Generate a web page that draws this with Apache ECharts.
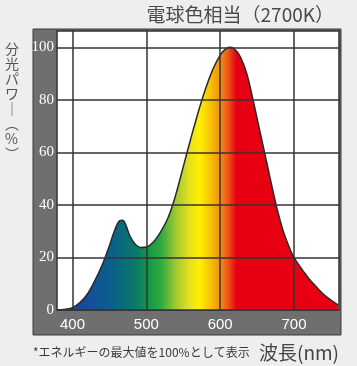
<!DOCTYPE html>
<html>
<head>
<meta charset="utf-8">
<script src="https://cdn.jsdelivr.net/npm/echarts@6/dist/echarts.min.js"></script>
<style>
html,body{margin:0;padding:0;background:#eeeeee;}
#c{width:357px;height:366px;}
</style>
</head>
<body>
<div id="c"></div>
<script>
// ---- data ----
const wavelengths = [380,390,400,410,420,430,440,450,458,464,468,472,478,485,492,500,510,520,530,540,550,560,570,580,590,600,608,614,620,628,636,643,650,657,664,671,678,685,692,698,705,712,720,730,740,750,760];
const power =       [0,0.3,0.9,2.8,6,11,17,24.5,31,34,34.2,32.5,28,25,23.8,24,26,30,35.5,44,54.5,65,75,84,91.5,97,99.5,100,99.2,96,90,82,73,64,55,46,37.5,30.5,25,21,17.8,15,12,8.9,6,3.8,1.9];
const xGridValues = [400,500,600,700];
const yGridValues = [0,20,40,60,80,100];
const xTickLabels = [400,500,600,700];
const titleText = '電球色相当（2700K）';
const yAxisTitle = '分\n光\nパ\nワ\n｜\n︵\n%\n︶';
const xAxisTitle = '波長(nm)';
const footnote = '*エネルギーの最大値を100%として表示';
// spectrum colours along the wavelength axis
const stopNm = [380,415,450,485,505,520,540,558,572,586,600,610,622,760];
const stopColors = ['#1a3f96','#1a4a9a','#0b5e8c','#0a7868','#159a45','#30aa40','#a0c830','#e6e020','#fff000','#f8c400','#f29010','#ee5a18','#e60012','#e60012'];

const xMin = 379, xMax = 761;
const span = wavelengths[wavelengths.length-1] - wavelengths[0];
const colorStops = stopNm.map((nm,i)=>({offset:(nm - wavelengths[0])/span, color:stopColors[i]}));

const chart = echarts.init(document.getElementById('c'), null, {renderer:'canvas'});
chart.setOption({
  backgroundColor:'#eeeeee',
  animation:false,
  title:{
    text:titleText,
    right:18, top:0,
    textStyle:{fontFamily:'Noto Sans CJK JP', fontSize:19, fontWeight:'normal', color:'#4a4a4a'}
  },
  graphic:[
    {type:'rect', z:-100, shape:{x:33, y:29, width:308, height:306}, style:{fill:'#6f6f6f', stroke:'#3a3a3a', lineWidth:1}},
    {type:'text', left:5, top:41, style:{text:yAxisTitle, fontFamily:'Noto Sans CJK JP', fontSize:14, lineHeight:15, fill:'#555555', align:'center'}},
    {type:'text', left:33, top:346, style:{text:footnote, fontFamily:'Noto Sans CJK JP', fontSize:12, fill:'#3c3c3c'}},
    {type:'text', right:18, top:343, style:{text:xAxisTitle, fontFamily:'Noto Sans CJK JP', fontSize:19, fill:'#444444'}}
  ],
  grid:{left:57, right:18, top:31, bottom:56, show:true, backgroundColor:'#ffffff', borderColor:'#333333', borderWidth:1.5},
  xAxis:{
    type:'value', min:xMin, max:xMax,
    axisLine:{show:false}, axisTick:{show:false}, splitLine:{show:false},
    axisLabel:{customValues:xTickLabels, color:'#ffffff', fontSize:15, fontFamily:'Liberation Sans', margin:7}
  },
  yAxis:{
    type:'value', min:0, max:106.2, interval:20,
    axisLine:{show:false}, axisTick:{show:false}, splitLine:{show:false},
    axisLabel:{color:'#ffffff', fontSize:15, fontFamily:'Liberation Sans Narrow', margin:3, showMaxLabel:false}
  },
  series:[{
    type:'line',
    data:wavelengths.map((w,i)=>[w,power[i]]),
    smooth:0.35,
    symbol:'none',
    lineStyle:{color:'#2a2a2a', width:1.5},
    areaStyle:{opacity:1, color:new echarts.graphic.LinearGradient(0,0,1,0,colorStops)},
    markLine:{
      silent:true, symbol:['none','none'], label:{show:false},
      lineStyle:{color:'#333333', width:1.5, type:'solid'},
      data:xGridValues.map(v=>({xAxis:v})).concat(yGridValues.map(v=>({yAxis:v})))
    }
  }]
});
</script>
</body>
</html>
